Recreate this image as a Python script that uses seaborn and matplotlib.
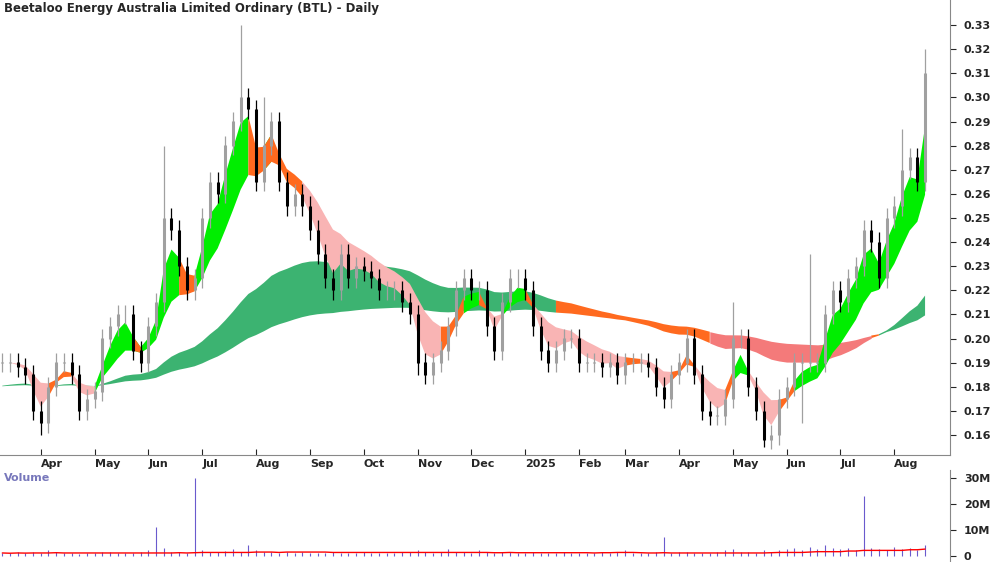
import numpy as np
import pandas as pd
import matplotlib
matplotlib.use("Agg")
import matplotlib.pyplot as plt
import seaborn as sns

sns.set_style("white")
plt.rcParams['font.family'] = ['DejaVu Sans']

closes = [0.19,0.19,0.188,0.185,0.17,0.165,0.18,0.19,0.19,0.185,
          0.17,0.175,0.178,0.20,0.205,0.21,0.21,0.195,0.19,0.205,
          0.215,0.25,0.245,0.23,0.22,0.225,0.25,0.265,0.26,0.28,
          0.29,0.30,0.295,0.265,0.28,0.29,0.265,0.255,0.26,0.255,
          0.245,0.235,0.225,0.22,0.235,0.225,0.23,0.228,0.225,0.22,
          0.22,0.22,0.215,0.21,0.19,0.185,0.19,0.195,0.205,0.22,
          0.225,0.22,0.22,0.205,0.195,0.215,0.225,0.225,0.22,0.205,
          0.195,0.19,0.195,0.20,0.20,0.19,0.19,0.19,0.188,0.19,
          0.185,0.19,0.19,0.19,0.188,0.18,0.175,0.185,0.19,0.20,
          0.185,0.17,0.168,0.168,0.175,0.20,0.20,0.18,0.17,0.158,
          0.16,0.175,0.18,0.19,0.19,0.19,0.19,0.21,0.22,0.215,
          0.225,0.23,0.245,0.24,0.225,0.25,0.255,0.27,0.275,0.265,0.31]
spike_highs = {21: 0.28, 31: 0.33, 34: 0.30, 95: 0.215, 105: 0.235, 117: 0.287, 120: 0.32}
spike_lows = {5: 0.16, 54: 0.185, 99: 0.155, 104: 0.165}
volumes = [1.0,0.8,1.2,0.9,1.5,1.0,2.0,1.2,0.8,1.0,
           0.7,0.9,1.0,1.5,1.2,1.0,0.8,1.0,1.2,2.0,
           11.0,3.0,1.5,1.2,1.0,30.0,2.0,1.5,1.2,1.8,
           2.5,1.5,4.0,2.0,1.5,1.2,1.0,1.5,1.0,1.2,
           1.0,0.8,1.0,1.2,1.0,0.8,1.0,1.2,0.9,1.0,
           0.8,1.0,1.5,1.2,2.0,1.5,1.0,1.2,2.5,1.5,
           1.2,1.0,2.0,1.5,1.0,1.2,1.5,1.0,0.8,1.2,
           1.0,0.8,1.0,1.2,0.9,1.0,0.8,1.0,1.5,1.0,
           1.2,2.0,1.0,0.8,1.0,1.2,7.0,1.0,1.5,1.2,
           1.0,0.8,1.0,1.5,2.0,2.5,1.5,1.2,1.0,2.0,
           1.5,2.0,2.5,3.0,2.0,3.5,2.5,4.0,3.0,2.5,
           3.0,2.0,23.0,3.0,2.5,2.0,3.5,2.5,3.0,2.0,4.0]
start_date = "2024-03-11"
end_date = "2025-08-20"

n = len(closes)
dates = pd.date_range(start_date, end_date, periods=n)
df = pd.DataFrame({"close": closes, "vol": np.array(volumes) * 1e6}, index=dates)
df["open"] = df["close"].shift(1).fillna(df["close"].iloc[0])
df["high"] = np.maximum(df["open"], df["close"]) + 0.004
df["low"] = np.minimum(df["open"], df["close"]) - 0.004
for k, v in spike_highs.items():
    df.iloc[k, df.columns.get_loc("high")] = v
for k, v in spike_lows.items():
    df.iloc[k, df.columns.get_loc("low")] = v
x = np.arange(n)

short_spans = [3, 4, 5, 6, 8, 10]
long_spans = [45, 55, 65, 75, 85, 100]
seed = 0.18
S = np.array([df["close"].ewm(span=s, adjust=False).mean() for s in short_spans])
L = np.array([pd.concat([pd.Series([seed]), df["close"].reset_index(drop=True)]).ewm(span=s, adjust=False).mean().values[1:]
              for s in long_spans])

fig = plt.figure(figsize=(10, 5.62), dpi=100)
ax = fig.add_axes([0.0, 0.19, 0.95, 0.81])
axv = fig.add_axes([0.0, 0.0, 0.95, 0.163])

def ribbon(E, up, mixed, down):
    d = np.diff(E, axis=0)
    state = np.where((d <= 0).all(axis=0), 0, np.where((d >= 0).all(axis=0), 2, 1))
    lo, hi = E.min(axis=0), E.max(axis=0)
    cols = {0: up, 1: mixed, 2: down}
    for st, c in cols.items():
        m = state == st
        mm = m | np.r_[m[1:], False]
        ax.fill_between(x, lo, hi, where=mm, color=c, linewidth=0, interpolate=False, zorder=1)

ribbon(L, "#3cb371", "#ff6a1f", "#f47a7a")
ribbon(S, "#00ee00", "#ff6a1f", "#f9b4b4")

up = df["close"] >= df["open"]
for i in range(n):
    c = "#a0a0a0" if up.iloc[i] else "black"
    ax.vlines(x[i], df["low"].iloc[i], df["high"].iloc[i], color=c, lw=0.9, zorder=3)
    ax.vlines(x[i], min(df["open"].iloc[i], df["close"].iloc[i]),
              max(df["open"].iloc[i], df["close"].iloc[i]) + 1e-4, color=c, lw=2.2, zorder=3)

xmax = (n - 1) * 950 / 925
ax.set_xlim(-0.3, xmax)
ax.set_ylim(0.1516, 0.3404)
ax.yaxis.tick_right()
ax.set_yticks(np.arange(0.16, 0.335, 0.01))
ax.set_yticklabels([f"{v:.2f}" for v in np.arange(0.16, 0.335, 0.01)], fontsize=8, fontweight="bold")
ax.tick_params(axis="y", length=4, direction="out", right=True, pad=6)

month_starts = pd.date_range("2024-04-01", "2025-08-01", freq="MS")
pos = [dates.searchsorted(m) for m in month_starts]
labs = ["2025" if m.month == 1 else m.strftime("%b") for m in month_starts]
ax.set_xticks(pos)
ax.set_xticklabels(labs, fontsize=8, fontweight="bold", ha="left")
ax.tick_params(axis="x", length=4, direction="in", bottom=True, pad=3)
for s in ["top", "left"]:
    ax.spines[s].set_visible(False)
ax.spines["right"].set_color("#888888")
ax.spines["bottom"].set_color("#888888")
ax.text(0.004, 0.995, "Beetaloo Energy Australia Limited Ordinary (BTL) - Daily", transform=ax.transAxes,
        fontsize=8.5, fontweight="bold", va="top", ha="left")

axv.vlines(x, 0, df["vol"], color="#6a5acd", lw=0.8)
axv.plot(x, df["vol"].rolling(30, min_periods=1).median(), color="red", lw=1)
axv.set_xlim(-0.3, xmax)
axv.set_ylim(-2.5e6, 33e6)
axv.yaxis.tick_right()
axv.set_yticks([0, 10e6, 20e6, 30e6])
axv.set_yticklabels(["0", "10M", "20M", "30M"], fontsize=8, fontweight="bold")
axv.tick_params(axis="y", length=4, right=True, pad=6)
axv.set_xticks([])
for s in ["top", "left", "bottom"]:
    axv.spines[s].set_visible(False)
axv.spines["right"].set_color("#888888")
axv.text(0.004, 0.97, "Volume", transform=axv.transAxes, fontsize=8, fontweight="bold",
         color="#7777bb", va="top")

fig.savefig("out.png", dpi=100)
